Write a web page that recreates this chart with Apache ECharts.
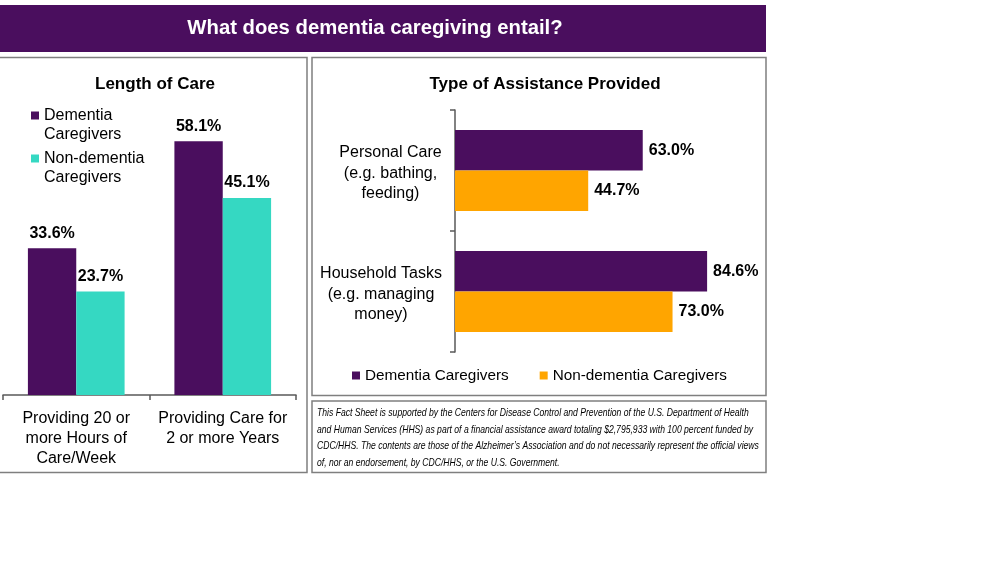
<!DOCTYPE html>
<html>
<head>
<meta charset="utf-8">
<title>What does dementia caregiving entail?</title>
<script src="https://cdn.jsdelivr.net/npm/echarts@6/dist/echarts.min.js"></script>
<style>
	html, body { margin: 0; padding: 0; background: #fff; }
	#main { width: 996px; height: 561px; }
</style>
</head>
<body>
<div id="main"></div>
<script>
	// 数据
	var careCategories = ['Providing 20 or\nmore Hours of\nCare/Week', 'Providing Care for\n2 or more Years'];
	var careDementia = [33.6, 58.1];
	var careNonDementia = [23.7, 45.1];

	var assistCategories = ['Personal Care\n(e.g. bathing,\nfeeding)', 'Household Tasks\n(e.g. managing\nmoney)'];
	var assistDementia = [63.0, 84.6];
	var assistNonDementia = [44.7, 73.0];

	var footnoteLines = [
		'This Fact Sheet is supported by the Centers for Disease Control and Prevention of the U.S. Department of Health',
		'and Human Services (HHS) as part of a financial assistance award totaling $2,795,933 with 100 percent funded by',
		'CDC/HHS. The contents are those of the Alzheimer\u2019s Association and do not necessarily represent the official views',
		'of, nor an endorsement, by CDC/HHS, or the U.S. Government.'
	];

	var PURPLE = '#4a0e5e', TEAL = '#35d8c2', ORANGE = '#ffa500';
	var FONT = '"Liberation Sans", Arial, sans-serif';
	var AXIS = '#595959', BORDER = '#7f7f7f';

	var chart = echarts.init(document.getElementById('main'));

	function pct(p) {
		return p.value.toFixed(1) + '%';
	}

	// 测量每个分类标签最宽的一行,用于块内居中、整体右对齐
	var measureCtx = document.createElement('canvas').getContext('2d');
	measureCtx.font = '16px ' + FONT;
	var assistRich = {};
	assistCategories.forEach(function(c, i) {
		var w = 0;
		c.split('\n').forEach(function(l) {
			w = Math.max(w, measureCtx.measureText(l).width);
		});
		assistRich['r' + i] = { width: Math.ceil(w), align: 'center', fontSize: 16, lineHeight: 20.5, color: '#000', fontFamily: FONT };
	});

	var option = {
		animation: false,
		textStyle: { fontFamily: FONT },
		title: [{
			text: 'Length of Care',
			left: 150, top: 71, textAlign: 'center',
			textStyle: { fontSize: 17, fontWeight: 'bold', color: '#000', fontFamily: FONT }
		}, {
			text: 'Type of Assistance Provided',
			left: 540, top: 71, textAlign: 'center',
			textStyle: { fontSize: 17, fontWeight: 'bold', color: '#000', fontFamily: FONT }
		}],
		legend: [{
			data: ['Dementia\nCaregivers', 'Non-dementia\nCaregivers'],
			orient: 'vertical',
			left: 31, top: 87, padding: 0,
			itemWidth: 8, itemHeight: 8, itemGap: -14,
			icon: 'rect',
			selectedMode: false,
			// 前面加一空行,使第一行与图标对齐
			formatter: function(name) {
				return ' \n' + name;
			},
			textStyle: { fontSize: 16, color: '#000', lineHeight: 19, fontFamily: FONT }
		}, {
			data: ['Dementia Caregivers', 'Non-dementia Caregivers'],
			left: 352, top: 368, padding: 0,
			itemWidth: 8, itemHeight: 8, itemGap: 31,
			icon: 'rect',
			selectedMode: false,
			textStyle: { fontSize: 15.3, color: '#000', fontFamily: FONT }
		}],
		grid: [
			{ left: 3, right: 700, top: 133, bottom: 166 },
			{ left: 455, right: 243, top: 110, bottom: 209 }
		],
		xAxis: [{
			type: 'category', gridIndex: 0, data: careCategories,
			axisLine: { show: true, lineStyle: { color: AXIS, width: 1.5 } },
			axisTick: { show: true, length: 5, lineStyle: { color: AXIS, width: 1.5 } },
			axisLabel: { fontSize: 16, lineHeight: 20, color: '#000', margin: 14, interval: 0 }
		}, {
			type: 'value', gridIndex: 1, min: 0, max: 100, show: false
		}],
		yAxis: [{
			type: 'value', gridIndex: 0, min: 0, max: 60, show: false
		}, {
			type: 'category', gridIndex: 1, data: assistCategories, inverse: true,
			axisLine: { show: true, lineStyle: { color: AXIS, width: 1.5 } },
			axisTick: { show: true, length: 5, lineStyle: { color: AXIS, width: 1.5 } },
			axisLabel: {
				margin: 13, align: 'right', interval: 0, padding: [6, 0, 0, 0],
				formatter: function(value, idx) {
					return value.split('\n').map(function(l) {
						return '{r' + idx + '|' + l + '}';
					}).join('\n');
				},
				rich: assistRich
			}
		}],
		series: [{
			name: 'Dementia\nCaregivers', type: 'bar',
			xAxisIndex: 0, yAxisIndex: 0,
			data: careDementia,
			itemStyle: { color: PURPLE },
			barGap: '0%', barCategoryGap: '34%',
			label: { show: true, position: 'top', distance: 7, formatter: pct, fontSize: 16, fontWeight: 'bold', color: '#000' }
		}, {
			name: 'Non-dementia\nCaregivers', type: 'bar',
			xAxisIndex: 0, yAxisIndex: 0,
			data: careNonDementia,
			itemStyle: { color: TEAL },
			barGap: '0%', barCategoryGap: '34%',
			label: { show: true, position: 'top', distance: 7, formatter: pct, fontSize: 16, fontWeight: 'bold', color: '#000' }
		}, {
			name: 'Dementia Caregivers', type: 'bar',
			xAxisIndex: 1, yAxisIndex: 1,
			data: assistDementia,
			itemStyle: { color: PURPLE },
			barGap: '0%', barCategoryGap: '33%',
			label: { show: true, position: 'right', distance: 6, formatter: pct, fontSize: 16, fontWeight: 'bold', color: '#000' }
		}, {
			name: 'Non-dementia Caregivers', type: 'bar',
			xAxisIndex: 1, yAxisIndex: 1,
			data: assistNonDementia,
			itemStyle: { color: ORANGE },
			barGap: '0%', barCategoryGap: '33%',
			label: { show: true, position: 'right', distance: 6, formatter: pct, fontSize: 16, fontWeight: 'bold', color: '#000' }
		}],
		graphic: [
			// 标题栏
			{ type: 'rect', left: 0, top: 5, shape: { width: 766, height: 47 }, style: { fill: PURPLE }, z: -1 },
			{
				type: 'text', x: 375, y: 28,
				style: { text: 'What does dementia caregiving entail?', fill: '#fff', font: 'bold 20.3px ' + FONT, align: 'center', verticalAlign: 'middle' }
			},
			// 面板边框
			{ type: 'rect', shape: { x: -2, y: 57.5, width: 309, height: 415 }, style: { fill: null, stroke: BORDER, lineWidth: 1.5 }, z: -1 },
			{ type: 'rect', shape: { x: 312, y: 57.5, width: 454, height: 338 }, style: { fill: null, stroke: BORDER, lineWidth: 1.5 }, z: -1 },
			{ type: 'rect', shape: { x: 312, y: 401, width: 454, height: 71.5 }, style: { fill: null, stroke: BORDER, lineWidth: 1.5 }, z: -1 },
			// 脚注(字体较窄,水平压缩)
			{
				type: 'text', x: 317, y: 405, scaleX: 0.82,
				style: { text: footnoteLines.join('\n'), fill: '#000', font: 'italic 10.5px ' + FONT, lineHeight: 16.5 }
			}
		]
	};

	chart.setOption(option);
</script>
</body>
</html>
